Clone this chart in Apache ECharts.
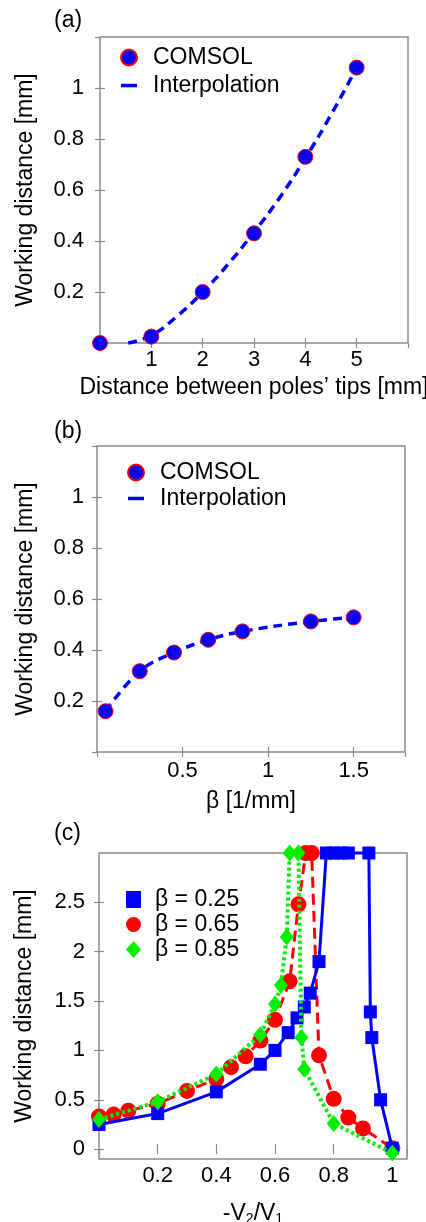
<!DOCTYPE html>
<html>
<head>
<meta charset="utf-8">
<script src="https://cdn.jsdelivr.net/npm/echarts@6/dist/echarts.min.js"></script>
<style>
  html, body { margin: 0; padding: 0; background: #fff; }
  #main { width: 426px; height: 1222px; }
</style>
</head>
<body>
<div id="main"></div>
<script>
// (a) working distance vs distance between poles' tips
const aTipX = [0, 1, 2, 3, 4, 5];
const aComsol = [0, 0.025, 0.2, 0.43, 0.73, 1.08];
const aFitX = [0.55, 1, 1.5, 2, 2.5, 3, 3.5, 4, 4.5, 5];
const aFitY = [0, 0.03, 0.105, 0.2, 0.31, 0.435, 0.57, 0.725, 0.895, 1.08];

// (b) working distance vs beta
const bBeta = [0.05, 0.25, 0.45, 0.65, 0.85, 1.25, 1.5];
const bComsol = [0.16, 0.317, 0.39, 0.44, 0.473, 0.512, 0.528];

// (c) working distance vs -V2/V1, three betas
const cNames = ['β = 0.25', 'β = 0.65', 'β = 0.85'];
const c025X = [0, 0.2, 0.4, 0.55, 0.6, 0.645, 0.675, 0.7, 0.72, 0.75, 0.775, 0.8, 0.825, 0.85, 0.92, 0.925, 0.93, 0.96, 1.0];
const c025Y = [0.25, 0.36, 0.58, 0.86, 1.0, 1.18, 1.33, 1.44, 1.58, 1.9, 3, 3, 3, 3, 3, 1.39, 1.13, 0.5, 0.01];
const c065X = [0, 0.05, 0.1, 0.2, 0.3, 0.4, 0.45, 0.5, 0.55, 0.6, 0.65, 0.68, 0.705, 0.725, 0.75, 0.8, 0.85, 0.9, 1.0];
const c065Y = [0.33, 0.35, 0.39, 0.46, 0.59, 0.71, 0.83, 0.94, 1.1, 1.31, 1.7, 2.48, 3, 3, 0.95, 0.51, 0.32, 0.21, 0.01];
const c085X = [0, 0.2, 0.4, 0.55, 0.6, 0.62, 0.64, 0.65, 0.68, 0.69, 0.7, 0.8, 1.0];
const c085Y = [0.3, 0.48, 0.76, 1.16, 1.47, 1.66, 2.15, 3, 3, 1.13, 0.81, 0.26, -0.04];
const cTicksY = [0, 0.5, 1, 1.5, 2, 2.5];

const FONT = '"Liberation Sans", Arial, Helvetica, sans-serif';
const FRAME = '#8a8a8a';
const BLUE = '#0000ff', RED = '#ff0000', GREEN = '#00f000';

const zip = (xs, ys) => xs.map((x, i) => [x, ys[i]]);
const txt = { fontSize: 22, color: '#000', fontFamily: FONT };
const big = { fontSize: 23, color: '#000', fontFamily: FONT };

function mainAxis(grid, pos, min, max, interval, name, nameGap, margin) {
  return {
    gridIndex: grid, type: 'value', position: pos,
    min: min, max: max, interval: interval,
    name: name, nameLocation: 'middle', nameGap: nameGap,
    nameTextStyle: big,
    axisLine: { show: false },
    axisTick: { show: true, inside: true, length: 5, lineStyle: { color: FRAME, width: 1.2 } },
    axisLabel: Object.assign({ margin: margin, showMinLabel: false, showMaxLabel: false }, txt),
    splitLine: { show: false }
  };
}
function mirrorAxis(grid, pos, min, max, interval) {
  return {
    gridIndex: grid, type: 'value', position: pos,
    min: min, max: max, interval: interval,
    axisLine: { show: false },
    axisTick: { show: true, inside: true, length: 5, lineStyle: { color: FRAME, width: 1.2 } },
    axisLabel: { show: false },
    splitLine: { show: false }
  };
}
function frame(left, top) {
  return {
    left: left, top: top, width: 308, height: 306,
    outerBoundsMode: 'none', containLabel: false,
    show: true, borderColor: FRAME, borderWidth: 1.5
  };
}

const cyMain = mainAxis(2, 'left', -0.1, 3, null, 'Working distance [mm]', 63, 14);
delete cyMain.interval;
cyMain.axisTick.customValues = cTicksY;
cyMain.axisLabel = Object.assign({ margin: 14, customValues: cTicksY }, txt);
const cyMirror = mirrorAxis(2, 'right', -0.1, 3, null);
delete cyMirror.interval;
cyMirror.axisTick.customValues = cTicksY;

const cxMain = mainAxis(2, 'bottom', 0, 1.05, 0.2, '{n|-V}{s|2}{n|/V}{s|1}', 43, 6);
cxMain.nameTextStyle = {
  rich: {
    n: { fontSize: 23, color: '#000', fontFamily: FONT },
    s: { fontSize: 14, color: '#000', fontFamily: FONT, verticalAlign: 'bottom', padding: [10, 0, 0, 0] }
  }
};

const legendBase = {
  orient: 'vertical', padding: 0, itemWidth: 16, itemHeight: 16,
  selectedMode: false, textStyle: Object.assign({ padding: [0, 0, 0, 11] }, big)
};

const option = {
  animation: false,
  backgroundColor: '#fff',
  title: [
    { text: '(a)', left: 54, top: 9, padding: 0, textStyle: Object.assign({ fontWeight: 'normal' }, big) },
    { text: '(b)', left: 54, top: 420, padding: 0, textStyle: Object.assign({ fontWeight: 'normal' }, big) },
    { text: '(c)', left: 54, top: 822, padding: 0, textStyle: Object.assign({ fontWeight: 'normal' }, big) }
  ],
  grid: [frame(100, 37), frame(97, 446), frame(99, 853)],
  legend: [
    Object.assign({}, legendBase, {
      left: 120, top: 46, itemGap: 5,
      data: [{ name: 'COMSOL', icon: 'circle' }, { name: 'Interpolation', icon: 'path://M0,0H16V3.5H0Z' }]
    }),
    Object.assign({}, legendBase, {
      left: 127, top: 461, itemGap: 3,
      data: [{ name: 'COMSOL', icon: 'circle' }, { name: 'Interpolation', icon: 'path://M0,0H16V3.5H0Z' }]
    }),
    Object.assign({}, legendBase, {
      left: 126, top: 888, itemGap: 2, itemWidth: 15, itemHeight: 17,
      textStyle: Object.assign({ padding: [0, 0, 0, 9] }, big),
      data: [{ name: cNames[0], icon: 'rect' }, { name: cNames[1], icon: 'circle' }, { name: cNames[2], icon: 'diamond' }]
    })
  ],
  xAxis: [
    mainAxis(0, 'bottom', 0, 6, 1, 'Distance between poles’ tips [mm]', 33, 6),
    mirrorAxis(0, 'top', 0, 6, 1),
    mainAxis(1, 'bottom', 0, 1.8, 0.5, 'β [1/mm]', 38, 8),
    mirrorAxis(1, 'top', 0, 1.8, 0.5),
    cxMain,
    mirrorAxis(2, 'top', 0, 1.05, 0.2)
  ],
  yAxis: [
    mainAxis(0, 'left', 0, 1.2, 0.2, 'Working distance [mm]', 63, 16),
    mirrorAxis(0, 'right', 0, 1.2, 0.2),
    mainAxis(1, 'left', 0, 1.2, 0.2, 'Working distance [mm]', 60, 13),
    mirrorAxis(1, 'right', 0, 1.2, 0.2),
    cyMain,
    cyMirror
  ],
  series: [
    {
      name: 'Interpolation', type: 'line', xAxisIndex: 0, yAxisIndex: 0,
      data: zip(aFitX, aFitY), smooth: true, symbol: 'none', clip: false,
      lineStyle: { color: BLUE, width: 3.5, type: [9, 6] }, itemStyle: { color: BLUE, borderWidth: 0 }, z: 2
    },
    {
      name: 'COMSOL', type: 'scatter', xAxisIndex: 0, yAxisIndex: 0,
      data: zip(aTipX, aComsol), symbolSize: 15, clip: false,
      itemStyle: { color: BLUE, borderColor: RED, borderWidth: 1, opacity: 1 }, z: 3
    },
    {
      name: 'Interpolation', type: 'line', xAxisIndex: 2, yAxisIndex: 2,
      data: zip(bBeta, bComsol), smooth: 0.4, symbol: 'none', clip: false,
      lineStyle: { color: BLUE, width: 3.5, type: [9, 6] }, itemStyle: { color: BLUE, borderWidth: 0 }, z: 2
    },
    {
      name: 'COMSOL', type: 'scatter', xAxisIndex: 2, yAxisIndex: 2,
      data: zip(bBeta, bComsol), symbolSize: 15, clip: false,
      itemStyle: { color: BLUE, borderColor: RED, borderWidth: 1, opacity: 1 }, z: 3
    },
    {
      name: cNames[1], type: 'line', xAxisIndex: 4, yAxisIndex: 4,
      data: zip(c065X, c065Y), symbol: 'circle', symbolSize: 16, clip: false,
      lineStyle: { color: RED, width: 3, type: [11, 6] }, itemStyle: { color: RED, borderWidth: 0 }, z: 2
    },
    {
      name: cNames[0], type: 'line', xAxisIndex: 4, yAxisIndex: 4,
      data: zip(c025X, c025Y), symbol: 'rect', symbolSize: 13, clip: false,
      lineStyle: { color: BLUE, width: 3 }, itemStyle: { color: BLUE, borderWidth: 0 }, z: 3
    },
    {
      name: cNames[2], type: 'line', xAxisIndex: 4, yAxisIndex: 4,
      data: zip(c085X, c085Y), symbol: 'diamond', symbolSize: [14, 17], clip: false,
      lineStyle: { color: GREEN, width: 4, type: [3, 3] }, itemStyle: { color: GREEN, borderWidth: 0 }, z: 4
    }
  ]
};

const chart = echarts.init(document.getElementById('main'));
chart.setOption(option);
</script>
</body>
</html>
